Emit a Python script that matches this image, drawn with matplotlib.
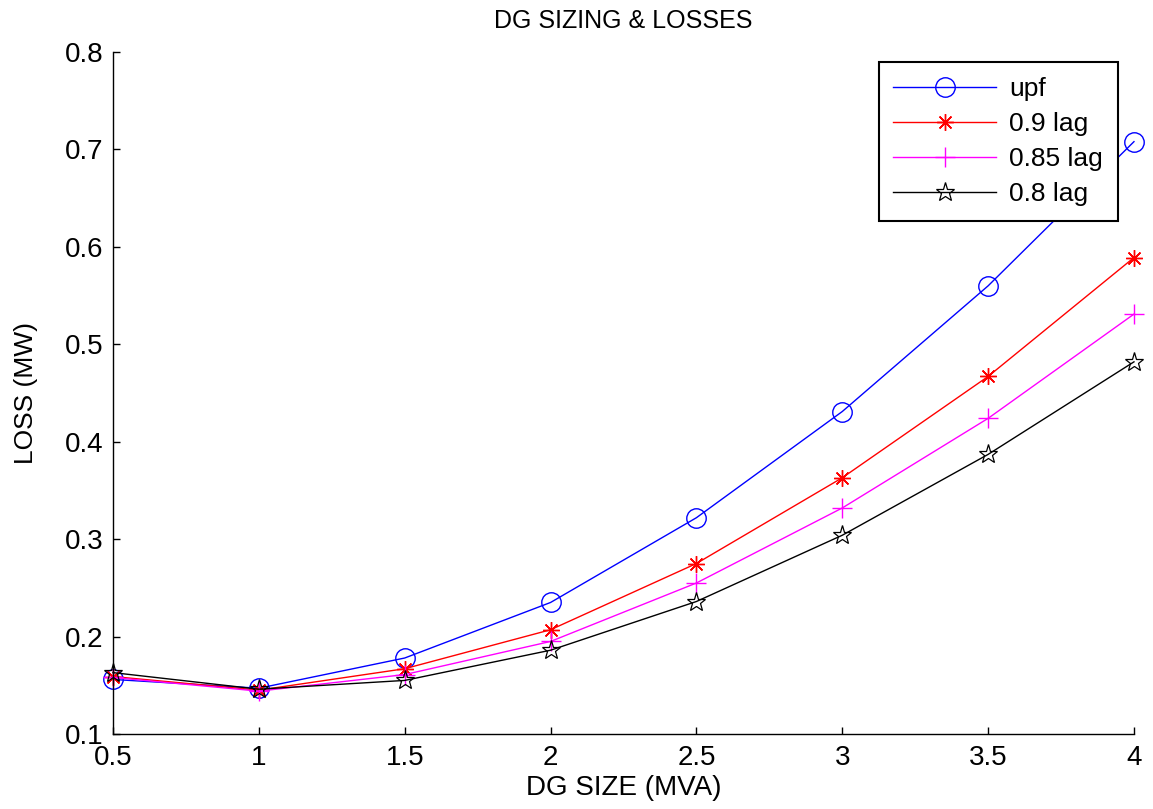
import matplotlib
matplotlib.use("Agg")
import matplotlib.pyplot as plt

dg_size = [0.5, 1.0, 1.5, 2.0, 2.5, 3.0, 3.5, 4.0]
loss_upf = [0.156, 0.147, 0.178, 0.235, 0.322, 0.431, 0.560, 0.708]
loss_09 = [0.159, 0.145, 0.167, 0.207, 0.275, 0.363, 0.467, 0.589]
loss_085 = [0.158, 0.144, 0.161, 0.195, 0.255, 0.332, 0.424, 0.531]
loss_08 = [0.163, 0.146, 0.155, 0.186, 0.236, 0.304, 0.387, 0.482]
labels = ["upf", "0.9 lag", "0.85 lag", "0.8 lag"]
x_ticks = [0.5, 1, 1.5, 2, 2.5, 3, 3.5, 4]
x_ticklabels = ["0.5", "1", "1.5", "2", "2.5", "3", "3.5", "4"]
y_ticks = [0.1, 0.2, 0.3, 0.4, 0.5, 0.6, 0.7, 0.8]
y_ticklabels = ["0.1", "0.2", "0.3", "0.4", "0.5", "0.6", "0.7", "0.8"]

plt.rcParams['font.family'] = ['Liberation Sans', 'DejaVu Sans']

fig = plt.figure(figsize=(11.53, 8.09), dpi=100)
ax = fig.add_axes([0.098, 0.0927, 0.8855, 0.843])

ax.plot(dg_size, loss_upf, color='#0000ff', lw=1, marker='o', ms=14,
        mfc='none', mec='#0000ff', mew=1, label=labels[0], clip_on=False)
ax.plot(dg_size, loss_09, color='#ff0000', lw=1, marker=(8, 2, 0), ms=12,
        mfc='none', mec='#ff0000', mew=1, label=labels[1], clip_on=False)
ax.plot(dg_size, loss_085, color='#ff00ff', lw=1, marker='+', ms=14,
        mfc='none', mec='#ff00ff', mew=1, label=labels[2], clip_on=False)
ax.plot(dg_size, loss_08, color='#000000', lw=1, marker='*', ms=14,
        mfc='none', mec='#000000', mew=0.9, label=labels[3], clip_on=False)

ax.set_xlim(0.5, 4)
ax.set_ylim(0.1, 0.8)
ax.set_xticks(x_ticks)
ax.set_xticklabels(x_ticklabels)
ax.set_yticks(y_ticks)
ax.set_yticklabels(y_ticklabels)
ax.tick_params(direction='in', length=5, width=1, labelsize=20)
ax.tick_params(axis='x', pad=8)
ax.tick_params(axis='y', pad=7)
for s in ['top', 'right']:
    ax.spines[s].set_visible(False)
for s in ['left', 'bottom']:
    ax.spines[s].set_linewidth(1)

ax.set_title("DG SIZING & LOSSES", fontsize=18, pad=17)
ax.set_xlabel("DG SIZE (MVA)", fontsize=20, labelpad=3)
ax.set_ylabel("LOSS (MW)", fontsize=19, labelpad=19)

leg = ax.legend(loc='upper right', bbox_to_anchor=(0.984, 0.985), fontsize=19,
                fancybox=False, framealpha=1, edgecolor='black',
                handlelength=3.9, borderpad=0.55, labelspacing=0.42,
                handletextpad=0.5, borderaxespad=0)
leg.get_frame().set_linewidth(1.5)

fig.savefig("out.png", dpi=100)
